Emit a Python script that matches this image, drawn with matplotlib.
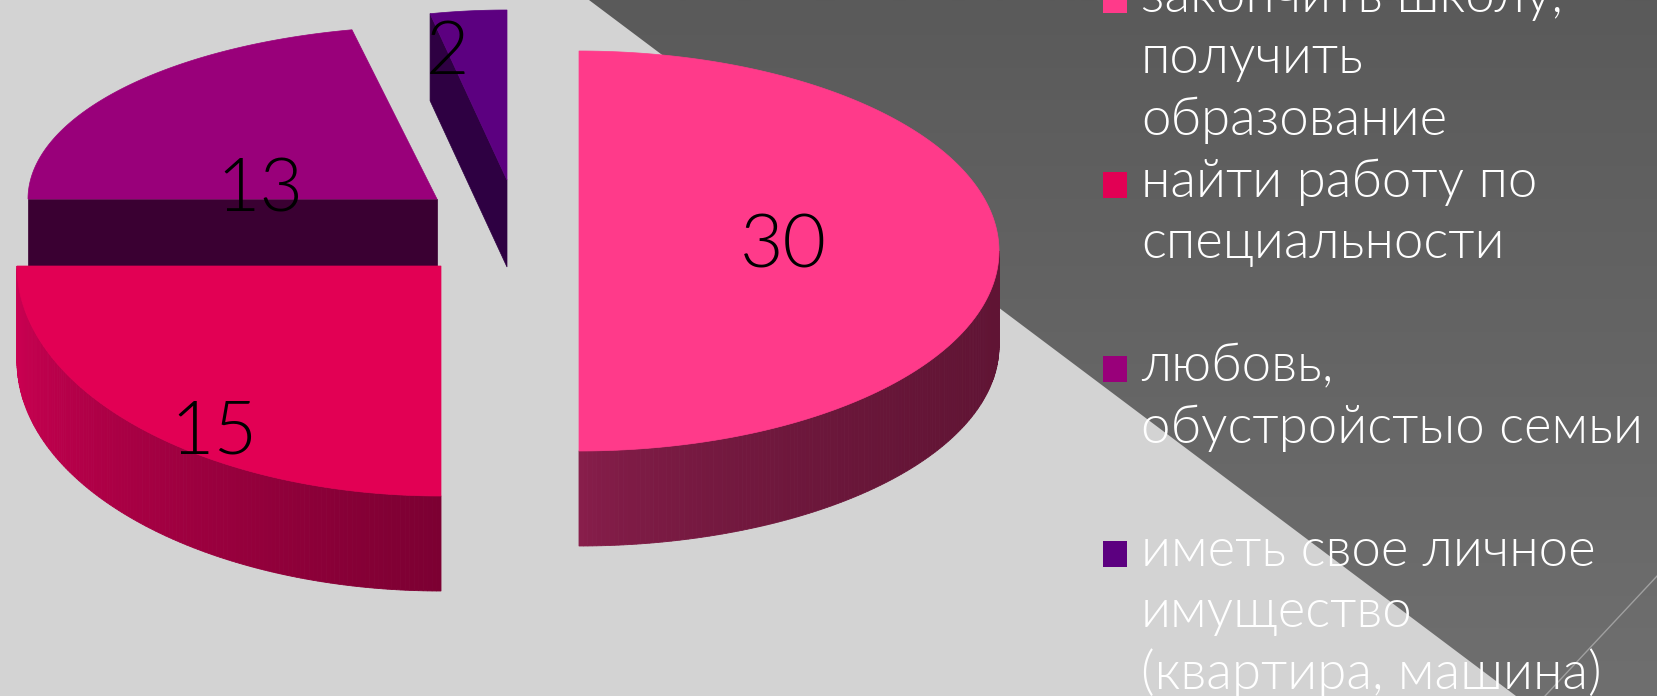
import numpy as np
import matplotlib.pyplot as plt
from matplotlib import font_manager as fm
from matplotlib.patches import Polygon, Rectangle
from matplotlib.colors import to_rgb, LinearSegmentedColormap

# ---- data ----
values = [30, 15, 13, 2]
labels = ["закончить школу,\nполучить\nобразование",
          "найти работу по\nспециальности",
          "любовь,\nобустройстыо семьи",
          "иметь свое личное\nимущество\n(квартира, машина)"]
top_colors = ["#FF3A8A", "#E20054", "#99007A", "#5C0080"]
side_colors = [("#8A1E4C", "#601434"), ("#CC0052", "#7C0032"),
               ("#3A0032", "#3A0032"), ("#2E0042", "#2E0042")]

# ---- layout (pixels, y down) ----
W, H = 1658, 696
apex = [(579, 251), (441, 266), (437, 199), (507, 180)]
radii = [(420, 200), (424, 230), (409, 173), (370, 170)]
depth = [95, 95, 95, 87]
label_off = [(204, -4), (-227, 167), (-177, -8), (-59, -127)]
draw_order = [3, 2, 0, 1]
blank_after = [0, 1, 1, 0]

# thin-ish font like Century Gothic: take a light cut if one is installed
FONT, WEIGHT = ['Lato', 'DejaVu Sans'], 'normal'
for fam in ['Lato', 'Open Sans', 'Roboto', 'Inter', 'Noto Sans']:
    if any(f.name == fam and f.weight == 300 for f in fm.fontManager.ttflist):
        FONT, WEIGHT = [fam, 'DejaVu Sans'], 300
        break

fig = plt.figure(figsize=(W / 100, H / 100), dpi=100)
ax = fig.add_axes([0, 0, 1, 1])
ax.set_xlim(0, W)
ax.set_ylim(H, 0)
ax.axis('off')

# background: light gray + dark diagonal band
ax.add_patch(Rectangle((0, 0), W, H, color='#D3D3D3', zorder=0))
band = Polygon([(589, 0), (1516, H), (W, H), (W, 0)], closed=True,
               facecolor='none', edgecolor='none')
ax.add_patch(band)
grad = np.linspace(0, 1, 256)[:, None]
im = ax.imshow(grad, extent=[0, W, H, 0], aspect='auto', zorder=0.5,
               cmap=LinearSegmentedColormap.from_list('band', ['#5A5A5A', '#6F6F6F']))
im.set_clip_path(band)
ax.plot([W, 1545], [575, H], color='#A0A0A0', lw=1, zorder=0.6)
ax.set_xlim(0, W)
ax.set_ylim(H, 0)

total = sum(values)
cum = np.concatenate([[0], np.cumsum(values)])
a_hi = 90 - 360 * cum[:-1] / total
a_lo = 90 - 360 * cum[1:] / total


def pt(i, a, dz=0.0):
    cx, cy = apex[i]
    rx, ry = radii[i]
    r = np.radians(a)
    return np.column_stack([cx + rx * np.cos(r), cy - ry * np.sin(r) + dz])


z = 1
for i in draw_order:
    h = depth[i]
    c0, c1 = np.array(to_rgb(side_colors[i][0])), np.array(to_rgb(side_colors[i][1]))
    cx, cy = apex[i]
    # cut faces along radii, if they face the viewer
    for a, n in [(a_hi[i], a_hi[i] + 90), (a_lo[i], a_lo[i] - 90)]:
        if np.sin(np.radians(n)) < -1e-6:
            e = pt(i, a)[0]
            quad = [(cx, cy), tuple(e), (e[0], e[1] + h), (cx, cy + h)]
            ax.add_patch(Polygon(quad, closed=True, facecolor=c0, edgecolor=c0,
                                 lw=0.5, zorder=z))
    # outer rim (front half only)
    lo, hi = max(a_lo[i], -180), min(a_hi[i], 0)
    if hi > lo:
        angs = np.linspace(hi, lo, 150)
        top = pt(i, angs)
        xmin, xmax = top[:, 0].min(), top[:, 0].max()
        for k in range(len(angs) - 1):
            p, q = top[k], top[k + 1]
            t = ((p[0] + q[0]) / 2 - xmin) / (xmax - xmin)
            col = c0 + (c1 - c0) * t ** 0.6
            ax.add_patch(Polygon([p, q, (q[0], q[1] + h), (p[0], p[1] + h)],
                                 closed=True, facecolor=col, edgecolor=col,
                                 lw=0.6, zorder=z))
    # top face
    arc = pt(i, np.linspace(a_hi[i], a_lo[i], 200))
    ax.add_patch(Polygon(np.vstack([[apex[i]], arc]), closed=True,
                         facecolor=top_colors[i], edgecolor=top_colors[i],
                         lw=0.5, zorder=z + 0.5))
    z += 1

# value labels
for i, v in enumerate(values):
    ax.text(apex[i][0] + label_off[i][0], apex[i][1] + label_off[i][1], str(v),
            ha='center', va='center', fontsize=54, family=FONT, weight=WEIGHT,
            color='black', zorder=10)

# legend on the right
line_step = 61.5
base0 = 12
line = 0
for i, lab in enumerate(labels):
    first = base0 + line * line_step
    ax.add_patch(Rectangle((1103, first - 25), 24, 26, facecolor=top_colors[i],
                           edgecolor='none', zorder=10))
    for part in lab.split("\n"):
        ax.text(1141, base0 + line * line_step, part, ha='left', va='baseline',
                fontsize=38, family=FONT, weight=WEIGHT, color='white', zorder=10)
        line += 1
    line += blank_after[i]

fig.savefig("out.png", dpi=100)
